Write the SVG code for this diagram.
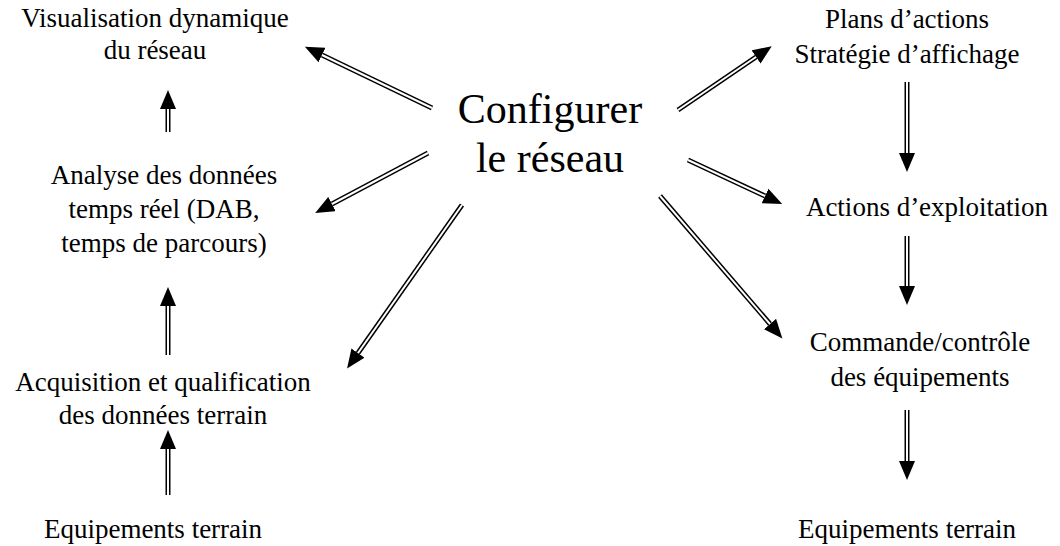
<svg xmlns="http://www.w3.org/2000/svg" width="1060" height="546" viewBox="0 0 1060 546">
<style>
text{font-family:"Liberation Serif","Times New Roman","DejaVu Serif",serif;fill:#000;text-anchor:middle}
.t{font-size:27px}
.big{font-size:42px}
.outer{stroke:#000;stroke-width:5;fill:none}
.inner{stroke:#fff;stroke-width:2;fill:none}
</style>
<defs>
<marker id="head" markerUnits="userSpaceOnUse" markerWidth="20" markerHeight="16" refX="0" refY="8" orient="auto" viewBox="0 0 20 16">
<path d="M0,0 L19,8 L0,16 Z" fill="#000"/>
</marker>
</defs>
<rect width="1060" height="546" fill="#fff"/>
<g id="connectors">
<line class="outer" x1="432" y1="108" x2="322" y2="55" marker-end="url(#head)"/>
<line class="inner" x1="432" y1="108" x2="322" y2="55"/>
<line class="outer" x1="168" y1="132" x2="168" y2="109" marker-end="url(#head)"/>
<line class="inner" x1="168" y1="132" x2="168" y2="109"/>
<line class="outer" x1="428" y1="153" x2="332" y2="204" marker-end="url(#head)"/>
<line class="inner" x1="428" y1="153" x2="332" y2="204"/>
<line class="outer" x1="462" y1="205" x2="358" y2="353" marker-end="url(#head)"/>
<line class="inner" x1="462" y1="205" x2="358" y2="353"/>
<line class="outer" x1="168" y1="355" x2="168" y2="306" marker-end="url(#head)"/>
<line class="inner" x1="168" y1="355" x2="168" y2="306"/>
<line class="outer" x1="168" y1="495" x2="168" y2="449" marker-end="url(#head)"/>
<line class="inner" x1="168" y1="495" x2="168" y2="449"/>
<line class="outer" x1="678" y1="110" x2="756" y2="57" marker-end="url(#head)"/>
<line class="inner" x1="678" y1="110" x2="756" y2="57"/>
<line class="outer" x1="907" y1="82" x2="907" y2="153" marker-end="url(#head)"/>
<line class="inner" x1="907" y1="82" x2="907" y2="153"/>
<line class="outer" x1="688" y1="160" x2="765" y2="196" marker-end="url(#head)"/>
<line class="inner" x1="688" y1="160" x2="765" y2="196"/>
<line class="outer" x1="660" y1="196" x2="770" y2="324" marker-end="url(#head)"/>
<line class="inner" x1="660" y1="196" x2="770" y2="324"/>
<line class="outer" x1="907" y1="236" x2="907" y2="286" marker-end="url(#head)"/>
<line class="inner" x1="907" y1="236" x2="907" y2="286"/>
<line class="outer" x1="907" y1="410" x2="907" y2="461" marker-end="url(#head)"/>
<line class="inner" x1="907" y1="410" x2="907" y2="461"/>
</g>
<g id="center"><text class="big" x="550" y="123">Configurer</text><text class="big" x="550" y="172">le réseau</text></g>
<g id="visu"><text class="t" x="155" y="27">Visualisation dynamique</text><text class="t" x="155" y="59">du réseau</text></g>
<g id="analyse"><text class="t" x="164" y="184">Analyse des données</text><text class="t" x="164" y="218">temps réel (DAB,</text><text class="t" x="164" y="252">temps de parcours)</text></g>
<g id="acquisition"><text class="t" x="163" y="391">Acquisition et qualification</text><text class="t" x="163" y="424">des données terrain</text></g>
<g id="equip-left"><text class="t" x="153" y="538">Equipements terrain</text></g>
<g id="plans"><text class="t" x="907" y="28">Plans d’actions</text><text class="t" x="907" y="63">Stratégie d’affichage</text></g>
<g id="actions"><text class="t" x="927" y="216">Actions d’exploitation</text></g>
<g id="commande"><text class="t" x="920" y="351">Commande/contrôle</text><text class="t" x="920" y="386">des équipements</text></g>
<g id="equip-right"><text class="t" x="907" y="538">Equipements terrain</text></g>
</svg>
